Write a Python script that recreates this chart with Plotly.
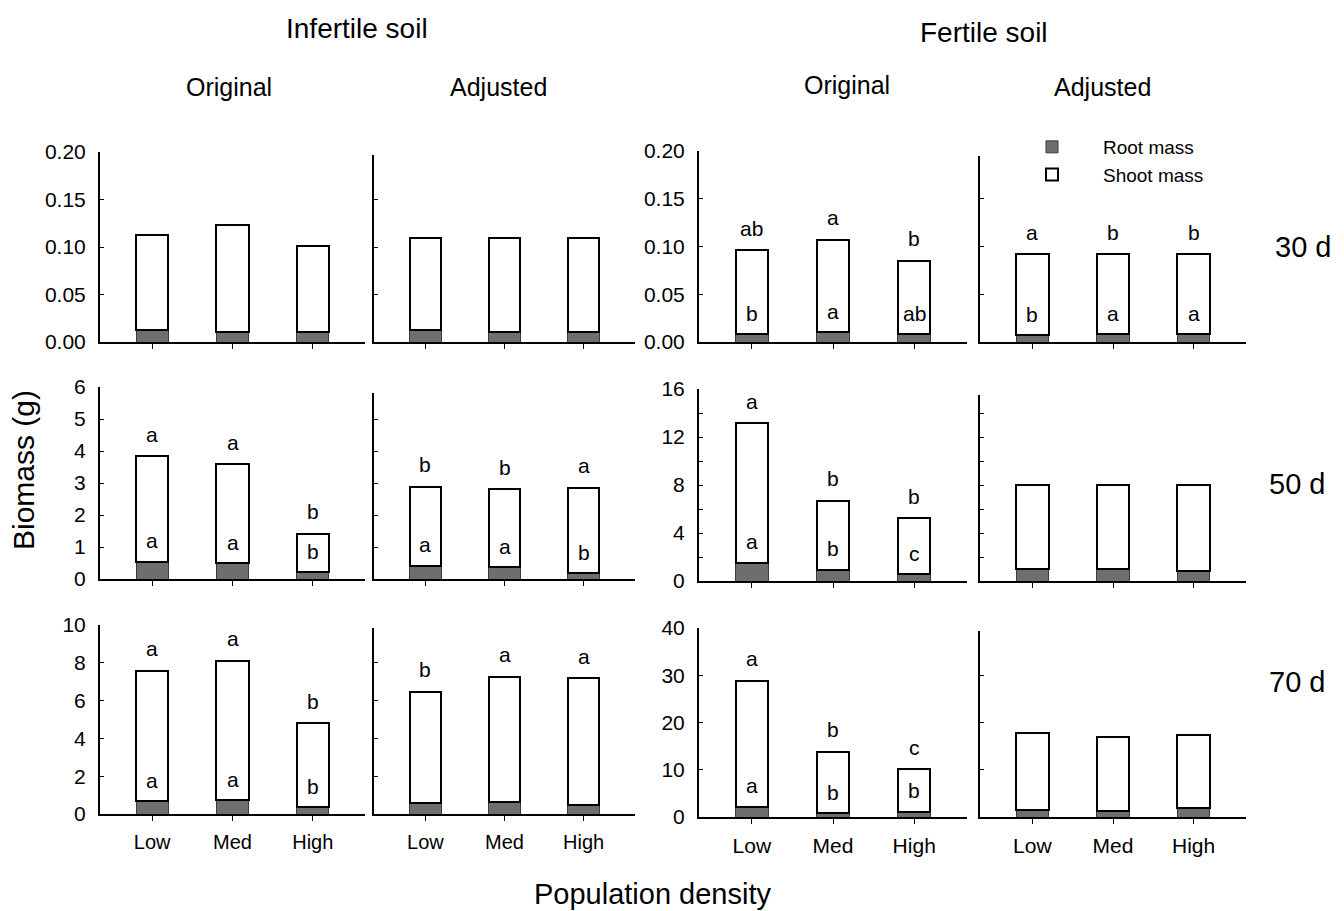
import plotly.graph_objects as go

# ---------------- data ----------------
categories = ["Low", "Med", "High"]
day_labels = ["30 d", "50 d", "70 d"]
soil_labels = ["Infertile soil", "Fertile soil"]
method_labels = ["Original", "Adjusted", "Original", "Adjusted"]
series_names = ["Root mass", "Shoot mass"]

# Infertile soil, Original
inf_orig_30_root = [0.013, 0.011, 0.011]
inf_orig_30_shoot = [0.100, 0.112, 0.090]
inf_orig_50_root = [0.54, 0.49, 0.21]
inf_orig_50_shoot = [3.30, 3.09, 1.20]
inf_orig_70_root = [0.67, 0.72, 0.35]
inf_orig_70_shoot = [6.90, 7.38, 4.45]

# Infertile soil, Adjusted
inf_adj_30_root = [0.013, 0.011, 0.011]
inf_adj_30_shoot = [0.096, 0.098, 0.098]
inf_adj_50_root = [0.41, 0.37, 0.18]
inf_adj_50_shoot = [2.47, 2.44, 2.67]
inf_adj_70_root = [0.58, 0.65, 0.48]
inf_adj_70_shoot = [5.89, 6.60, 6.70]

# Fertile soil, Original
fer_orig_30_root = [0.008, 0.010, 0.008]
fer_orig_30_shoot = [0.088, 0.097, 0.077]
fer_orig_50_root = [1.53, 0.92, 0.58]
fer_orig_50_shoot = [11.61, 5.75, 4.64]
fer_orig_70_root = [2.2, 0.8, 1.1]
fer_orig_70_shoot = [26.6, 13.0, 9.0]

# Fertile soil, Adjusted
fer_adj_30_root = [0.007, 0.008, 0.008]
fer_adj_30_shoot = [0.085, 0.084, 0.084]
fer_adj_50_root = [1.0, 1.0, 0.8]
fer_adj_50_shoot = [7.0, 7.0, 7.2]
fer_adj_70_root = [1.4, 1.2, 1.85]
fer_adj_70_shoot = [16.4, 15.8, 15.55]

# significance letters (above bar = total, inside bar = root)
fer_orig_30_top = ["ab", "a", "b"]
fer_orig_30_rootlet = ["b", "a", "ab"]
fer_adj_30_top = ["a", "b", "b"]
fer_adj_30_rootlet = ["b", "a", "a"]
inf_orig_50_top = ["a", "a", "b"]
inf_orig_50_rootlet = ["a", "a", "b"]
inf_adj_50_top = ["b", "b", "a"]
inf_adj_50_rootlet = ["a", "a", "b"]
fer_orig_50_top = ["a", "b", "b"]
fer_orig_50_rootlet = ["a", "b", "c"]
inf_orig_70_top = ["a", "a", "b"]
inf_orig_70_rootlet = ["a", "a", "b"]
inf_adj_70_top = ["b", "a", "a"]
fer_orig_70_top = ["a", "b", "c"]
fer_orig_70_rootlet = ["a", "b", "b"]

# y-axis ranges / tick steps per row (infertile cols, fertile cols)
y_max_inf = [0.20, 6, 10]
y_dtick_inf = [0.05, 1, 2]
y_max_fer = [0.20, 16, 40]
y_dtick_fer = [0.05, 4, 10]

# ---------------- layout helpers ----------------
W, H = 1344, 911
FONT = "Liberation Sans, Arial, sans-serif"
ROOT_COLOR = "#6e6e6e"

col_px = [(100, 365), (374, 635), (699, 967), (980, 1246)]
row_px_inf = [(152, 342), (387, 579), (625, 814)]
row_px_fer = [(151, 342), (389, 581), (628, 817)]
# the unlabelled ("Adjusted") axes start a little lower than the labelled ones
adj_top_px = {1: [155, 393, 628], 3: [156, 395, 631]}

panels = [
    # row, col, root, shoot, top letters, root letters
    (0, 0, inf_orig_30_root, inf_orig_30_shoot, None, None),
    (0, 1, inf_adj_30_root, inf_adj_30_shoot, None, None),
    (0, 2, fer_orig_30_root, fer_orig_30_shoot, fer_orig_30_top, fer_orig_30_rootlet),
    (0, 3, fer_adj_30_root, fer_adj_30_shoot, fer_adj_30_top, fer_adj_30_rootlet),
    (1, 0, inf_orig_50_root, inf_orig_50_shoot, inf_orig_50_top, inf_orig_50_rootlet),
    (1, 1, inf_adj_50_root, inf_adj_50_shoot, inf_adj_50_top, inf_adj_50_rootlet),
    (1, 2, fer_orig_50_root, fer_orig_50_shoot, fer_orig_50_top, fer_orig_50_rootlet),
    (1, 3, fer_adj_50_root, fer_adj_50_shoot, None, None),
    (2, 0, inf_orig_70_root, inf_orig_70_shoot, inf_orig_70_top, inf_orig_70_rootlet),
    (2, 1, inf_adj_70_root, inf_adj_70_shoot, inf_adj_70_top, None),
    (2, 2, fer_orig_70_root, fer_orig_70_shoot, fer_orig_70_top, fer_orig_70_rootlet),
    (2, 3, fer_adj_70_root, fer_adj_70_shoot, None, None),
]

fig = go.Figure()
annotations = []
layout_axes = {}

for idx, (r, c, root, shoot, top_let, root_let) in enumerate(panels):
    k = idx + 1
    xa = "x" if k == 1 else f"x{k}"
    ya = "y" if k == 1 else f"y{k}"
    first = (k == 1)
    fig.add_trace(go.Bar(
        x=categories, y=root, xaxis=xa, yaxis=ya, name=series_names[0],
        marker=dict(color=ROOT_COLOR, line=dict(color="#3a3a3a", width=1)),
        width=0.4, showlegend=first, legendgroup="root",
    ))
    fig.add_trace(go.Bar(
        x=categories, y=shoot, xaxis=xa, yaxis=ya, name=series_names[1],
        marker=dict(color="white", line=dict(color="black", width=2)),
        width=0.4, showlegend=first, legendgroup="shoot",
    ))

    fertile = c >= 2
    rows_px = row_px_fer if fertile else row_px_inf
    ymax = (y_max_fer if fertile else y_max_inf)[r]
    dtick = (y_dtick_fer if fertile else y_dtick_inf)[r]
    x0, x1 = col_px[c]
    yt, yb = rows_px[r]
    if c in adj_top_px:
        # keep the same scale as the labelled neighbour, shorter axis line
        new_top = adj_top_px[c][r]
        ymax = ymax * (yb - new_top) / (yb - yt)
        yt = new_top
    labeled_y = c in (0, 2)
    bottom_row = (r == 2)

    xkey = "xaxis" if k == 1 else f"xaxis{k}"
    ykey = "yaxis" if k == 1 else f"yaxis{k}"
    layout_axes[xkey] = dict(
        domain=[x0 / W, x1 / W], anchor=ya, type="category",
        categoryorder="array", categoryarray=categories,
        range=[-0.65, 2.65], showline=True, linecolor="black", linewidth=2,
        ticks="outside", ticklen=5, tickwidth=1, tickcolor="black",
        showgrid=False, zeroline=False, fixedrange=True, automargin=False,
        showticklabels=bottom_row, ticklabelstandoff=4,
        tickfont=dict(family=FONT, size=21 if fertile else 20, color="black"),
    )
    yax = dict(
        domain=[1 - yb / H, 1 - yt / H], anchor=xa, range=[0, ymax],
        showline=True, linecolor="black", linewidth=2,
        ticks="inside", ticklen=4, tickwidth=1, tickcolor="black",
        dtick=(2 if (fertile and r == 1 and c == 3) else dtick), tick0=0,
        showgrid=False, zeroline=False, fixedrange=True, automargin=False,
        showticklabels=labeled_y, ticklabelstandoff=8,
        tickfont=dict(family=FONT, size=21, color="black"),
    )
    if r == 0:
        yax["tickformat"] = ".2f"
    if fertile and r == 1 and c == 2:
        yax["minor"] = dict(dtick=2, ticks="inside", ticklen=4, tickcolor="black")
    layout_axes[ykey] = yax

    totals = [a + b for a, b in zip(root, shoot)]
    if top_let:
        for cat, tot, t in zip(categories, totals, top_let):
            annotations.append(dict(x=cat, y=tot, xref=xa, yref=ya, text=t,
                                    showarrow=False, yanchor="middle", yshift=22,
                                    font=dict(family=FONT, size=21, color="black")))
    if root_let:
        for cat, rv, t in zip(categories, root, root_let):
            annotations.append(dict(x=cat, y=rv, xref=xa, yref=ya, text=t,
                                    showarrow=False, yanchor="middle", yshift=21,
                                    font=dict(family=FONT, size=21, color="black")))

def paper_text(text, px, py, size, angle=0):
    annotations.append(dict(x=px / W, y=1 - py / H, xref="paper", yref="paper",
                            text=text, showarrow=False, xanchor="center",
                            yanchor="middle", textangle=angle,
                            font=dict(family=FONT, size=size, color="black")))

paper_text(soil_labels[0], 357, 28, 28)
paper_text(soil_labels[1], 984, 32, 28)
for lbl, (px, py) in zip(method_labels, [(229, 87), (498, 87), (847, 85), (1102, 87)]):
    paper_text(lbl, px, py, 25)
for lbl, (px, py) in zip(day_labels, [(1303, 247), (1297, 484), (1297, 682)]):
    paper_text(lbl, px, py, 29)
paper_text("Biomass (g)", 24, 470, 30, angle=-90)
paper_text("Population density", 652, 894, 29)

fig.update_layout(
    width=W, height=H,
    margin=dict(l=0, r=0, t=0, b=0, pad=0, autoexpand=False),
    paper_bgcolor="white", plot_bgcolor="white", barmode="stack",
    showlegend=True,
    legend=dict(x=1001 / W, y=1 - 128 / H, xanchor="left", yanchor="top",
                traceorder="normal", itemwidth=92, bgcolor="rgba(0,0,0,0)",
                font=dict(family=FONT, size=19, color="black"),
                tracegroupgap=0),
    annotations=annotations,
    **layout_axes,
)

fig.write_html(
    "out.html",
    config={"displayModeBar": False},
    post_script="document.body.style.margin='0';document.body.style.overflow='hidden';",
)
